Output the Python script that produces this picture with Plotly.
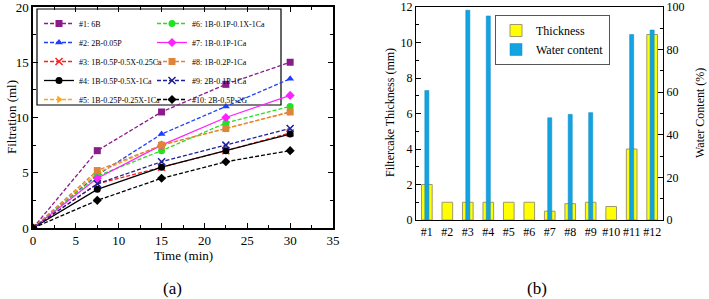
import plotly.graph_objects as go

# ---------------- data: (a) filtration vs time ----------------
time_min = [0, 7.5, 15, 22.5, 30]
series_names = [
    "#1: 6B", "#2: 2B-0.05P", "#3: 1B-0.5P-0.5X-0.25Ca", "#4: 1B-0.5P-0.5X-1Ca",
    "#5: 1B-0.25P-0.25X-1Ca", "#6: 1B-0.1P-0.1X-1Ca", "#7: 1B-0.1P-1Ca",
    "#8: 1B-0.2P-1Ca", "#9: 2B-0.1P-1Ca", "#10: 2B-0.5P-2G",
]
f1 = [0, 7.0, 10.5, 13.0, 15.0]
f2 = [0, 4.8, 8.5, 11.0, 13.5]
f3 = [0, 4.0, 5.5, 7.0, 8.6]
f4 = [0, 3.5, 5.5, 7.0, 8.5]
f5 = [0, 5.0, 7.5, 9.0, 10.5]
f6 = [0, 4.7, 7.0, 9.5, 11.0]
f7 = [0, 4.5, 7.5, 10.0, 12.0]
f8 = [0, 5.2, 7.5, 9.0, 10.5]
f9 = [0, 4.0, 6.0, 7.5, 9.0]
f10 = [0, 2.5, 4.5, 6.0, 7.0]
filtration = [f1, f2, f3, f4, f5, f6, f7, f8, f9, f10]

# ---------------- data: (b) thickness / water content ----------------
samples = ["#1", "#2", "#3", "#4", "#5", "#6", "#7", "#8", "#9", "#10", "#11", "#12"]
thickness_mm = [2.0, 1.0, 1.0, 1.0, 1.0, 1.0, 0.5, 0.92, 1.0, 0.76, 4.0, 10.45]
water_pct = [60.8, None, 98.5, 95.8, None, None, 48.0, 49.6, 50.4, None, 87.1, 89.2]

# ---------------- styles ----------------
colors = ["#8B1A8B", "#1F3FFF", "#FF1F1F", "#000000", "#FFA51F",
          "#22E022", "#FF22FF", "#E0843A", "#1F1F9A", "#000000"]
symbols = ["square", "triangle-up", "x-thin-open", "circle", "triangle-right",
           "circle", "diamond", "square", "x-thin-open", "diamond"]
dashes = ["4px,2px", "4px,2px", "4px,2px", "solid", "4px,2px",
          "4px,2px", "solid", "4px,2px", "4px,2px", "4px,2px"]

FONT = "Liberation Serif"
W, H = 709, 299
TOP = 7


def px(xp):
    return xp / W


def py(yp):
    return (H - yp) / H


fig = go.Figure()
for i in range(10):
    sym = symbols[i]
    fig.add_trace(go.Scatter(
        x=time_min, y=filtration[i], name=series_names[i],
        mode="lines+markers",
        line=dict(color=colors[i], width=1.3, dash=dashes[i]),
        marker=dict(symbol=sym, size=7, color=colors[i],
                    line=dict(color=colors[i], width=1.5 if "x" in sym else 0)),
        xaxis="x", yaxis="y",
        legend="legend" if i < 5 else "legend2",
    ))

fig.add_trace(go.Bar(
    x=samples, y=thickness_mm, name="Thickness", width=0.52,
    marker=dict(color="#FFFF00", line=dict(color="#A09A6A", width=1)),
    xaxis="x2", yaxis="y2", legend="legend3",
))
fig.add_trace(go.Bar(
    x=samples, y=water_pct, name="Water content", width=0.2,
    marker=dict(color="#12A3E3", line=dict(color="#0E86BD", width=0.5)),
    xaxis="x2", yaxis="y3", legend="legend3",
))

axis_common = dict(showline=True, linecolor="black", linewidth=1.5, mirror="allticks",
                   ticks="inside", ticklen=5, tickcolor="black", tickwidth=1,
                   showgrid=False, zeroline=False, automargin=False,
                   ticklabeloverflow="allow",
                   tickfont=dict(family=FONT, size=13, color="black"))

fig.update_layout(
    template="none",
    width=W, height=H,
    margin=dict(l=0, r=0, t=0, b=0, pad=0),
    paper_bgcolor="white", plot_bgcolor="white",
    font=dict(family=FONT, color="black"),
    barmode="overlay",
    xaxis=dict(domain=[px(33), px(333)], range=[0, 35], dtick=5,
               minor=dict(dtick=2.5, ticks="inside", ticklen=3, tickcolor="black"),
               anchor="y", **axis_common),
    yaxis=dict(domain=[py(228), py(TOP)], range=[0, 20], dtick=5,
               minor=dict(dtick=2.5, ticks="inside", ticklen=3, tickcolor="black"),
               anchor="x", **axis_common),
    xaxis2=dict(domain=[px(416), px(663)], type="category", range=[-0.53, 11.53],
                showline=True, linecolor="black", linewidth=1.2, mirror=True,
                ticks="", showgrid=False, anchor="y2", automargin=False,
                tickfont=dict(family=FONT, size=12, color="black")),
    yaxis2=dict(domain=[py(220), py(TOP)], range=[0, 12], dtick=2,
                showline=True, linecolor="black", linewidth=1.2,
                ticks="inside", ticklen=5, tickcolor="black", showgrid=False, zeroline=False,
                minor=dict(dtick=1, ticks="inside", ticklen=3, tickcolor="black"),
                anchor="x2", side="left", automargin=False, ticklabeloverflow="allow",
                tickfont=dict(family=FONT, size=12, color="black")),
    yaxis3=dict(range=[0, 100], dtick=20, overlaying="y2", side="right", anchor="x2",
                showline=True, linecolor="black", linewidth=1.2,
                ticks="inside", ticklen=5, tickcolor="black", showgrid=False, zeroline=False,
                minor=dict(dtick=10, ticks="inside", ticklen=3, tickcolor="black"),
                automargin=False, ticklabeloverflow="allow",
                tickfont=dict(family=FONT, size=12, color="black")),
    legend=dict(x=px(39), y=py(9), xanchor="left", yanchor="top",
                bgcolor="rgba(0,0,0,0)", borderwidth=0,
                font=dict(family=FONT, size=8, color="black"),
                itemwidth=30, tracegroupgap=0),
    legend2=dict(x=px(152), y=py(9), xanchor="left", yanchor="top",
                 bgcolor="rgba(0,0,0,0)", borderwidth=0,
                 font=dict(family=FONT, size=8, color="black"),
                 itemwidth=30, tracegroupgap=0),
    legend3=dict(x=px(495), y=py(15), xanchor="left", yanchor="top",
                 bgcolor="white", bordercolor="#555555", borderwidth=1,
                 font=dict(family=FONT, size=12, color="black"),
                 itemwidth=30, tracegroupgap=0),
    shapes=[dict(type="rect", xref="paper", yref="paper",
                 x0=px(37), x1=px(281), y0=py(105), y1=py(9),
                 line=dict(color="black", width=1.2), fillcolor="white", layer="below")],
)

ann = [
    ("Time (min)", 183, 255, 0, 13),
    ("Filtration (ml)", 12, 117, -90, 13),
    ("Filtercake Thickness (mm)", 390, 113, -90, 12),
    ("Water Content (%)", 700, 113, -90, 12),
    ("(a)", 172, 288, 0, 17),
    ("(b)", 537, 288, 0, 17),
]
for text, ax_, ay_, ang, size in ann:
    fig.add_annotation(text=text, x=px(ax_), y=py(ay_), xref="paper", yref="paper",
                       xanchor="center", yanchor="middle", showarrow=False,
                       textangle=ang, font=dict(family=FONT, size=size, color="black"))

fig.write_html("out.html")
